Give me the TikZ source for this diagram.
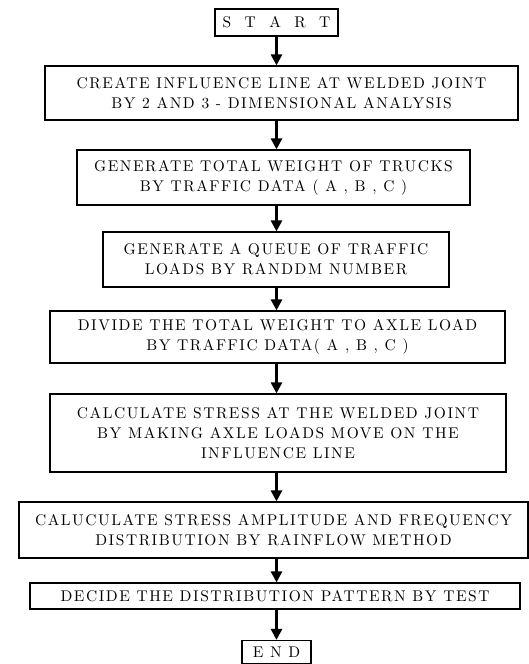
\documentclass[tikz,border=0pt]{standalone}
\usepackage{fontspec}
\usepackage{tikz}
\usetikzlibrary{positioning,arrows.meta}
\newfontfamily\flowfont{lmroman10-regular.otf}[LetterSpace=10]

\begin{document}
\begin{tikzpicture}[x=1pt,y=1pt,
    flowbox/.style={draw, line width=1.2pt, align=center, inner sep=2pt,
        font=\flowfont\fontsize{15.5}{20}\selectfont},
    flowarrow/.style={line width=2.8pt, -{Triangle[width=11pt,length=11pt]}}
]
    \useasboundingbox (0,0) rectangle (529,-664);

    % start / end boxes
    \node[flowbox, minimum width=123pt, minimum height=27pt] (start) at (276.5,-22.5) {S~~T~~A~~R~~T};

    % steps
    \node[flowbox, minimum width=473pt, minimum height=54pt] (create) at (281.5,-93)
        {CREATE INFLUENCE LINE AT WELDED JOINT \\ BY 2 AND 3 - DIMENSIONAL ANALYSIS};
    \node[flowbox, minimum width=393pt, minimum height=55pt] (weight) at (273.5,-177.5)
        {GENERATE TOTAL WEIGHT OF TRUCKS \\ BY TRAFFIC DATA ( A , B , C )};
    \node[flowbox, minimum width=346pt, minimum height=55pt] (queue) at (276,-259.5)
        {GENERATE A QUEUE OF TRAFFIC \\ LOADS BY RANDDM NUMBER};
    \node[flowbox, minimum width=455pt, minimum height=52pt] (divide) at (277.5,-337)
        {DIVIDE THE TOTAL WEIGHT TO AXLE LOAD \\ BY TRAFFIC DATA( A , B , C )};
    \node[flowbox, minimum width=456pt, minimum height=78pt] (stress) at (278,-433)
        {CALCULATE STRESS AT THE WELDED JOINT \\ BY MAKING AXLE LOADS MOVE ON THE \\ INFLUENCE LINE};
    \node[flowbox, minimum width=509pt, minimum height=56pt] (ampl) at (273.5,-530)
        {CALUCULATE STRESS AMPLITUDE AND FREQUENCY \\ DISTRIBUTION BY RAINFLOW METHOD};
    \node[flowbox, minimum width=490pt, minimum height=26pt] (decide) at (275,-596)
        {DECIDE THE DISTRIBUTION PATTERN BY TEST};

    \node[flowbox, minimum width=69pt, minimum height=23pt] (end) at (276.5,-652) {E N D};

    % connectors
    \draw[flowarrow] (start.south) -- (start.south |- create.north);
    \draw[flowarrow] (start.south |- create.south) -- (start.south |- weight.north);
    \draw[flowarrow] (start.south |- weight.south) -- (start.south |- queue.north);
    \draw[flowarrow] (start.south |- queue.south) -- (start.south |- divide.north);
    \draw[flowarrow] (start.south |- divide.south) -- (start.south |- stress.north);
    \draw[flowarrow] (start.south |- stress.south) -- (start.south |- ampl.north);
    \draw[flowarrow] (start.south |- ampl.south) -- (start.south |- decide.north);
    \draw[flowarrow] (start.south |- decide.south) -- (end.north);
\end{tikzpicture}
\end{document}
